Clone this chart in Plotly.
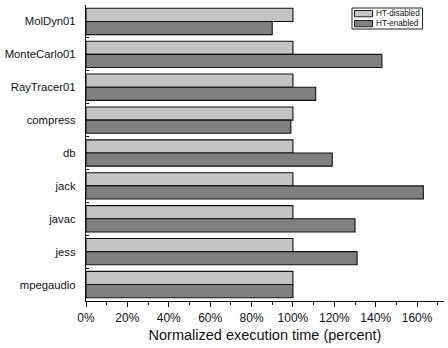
import plotly.graph_objects as go

benchmarks = ["MolDyn01", "MonteCarlo01", "RayTracer01", "compress", "db",
              "jack", "javac", "jess", "mpegaudio"]
ht_disabled = [100, 100, 100, 100, 100, 100, 100, 100, 100]
ht_enabled = [90, 143, 111, 99, 119, 163, 130, 131, 100]
x_ticks = [0, 20, 40, 60, 80, 100, 120, 140, 160]
series_names = ["HT-disabled", "HT-enabled"]
series_colors = ["#c4c4c4", "#808080"]

W, H = 448, 348
ML, MR, MT, MB = 86, 4, 5, 47
PW, PH = W - ML - MR, H - MT - MB


def px_x(x):
    return (x - ML) / PW


def px_y(y):
    return (H - MB - y) / PH


fig = go.Figure()
for name, vals, col in zip(series_names, [ht_disabled, ht_enabled], series_colors):
    fig.add_trace(go.Bar(
        y=benchmarks, x=vals, orientation="h", name=name,
        marker=dict(color=col, line=dict(color="#111111", width=1.1)),
    ))

# compact boxed legend with wide swatches
shapes = [dict(type="rect", xref="paper", yref="paper",
               x0=px_x(352), x1=px_x(422.5), y0=px_y(29), y1=px_y(8),
               line=dict(color="#222222", width=1), fillcolor="white", layer="above")]
annotations = []
for i, (name, col) in enumerate(zip(series_names, series_colors)):
    top = 10.5 + i * 10
    shapes.append(dict(type="rect", xref="paper", yref="paper",
                       x0=px_x(354.5), x1=px_x(372.5), y0=px_y(top + 6.3), y1=px_y(top),
                       line=dict(color="#222222", width=1), fillcolor=col, layer="above"))
    annotations.append(dict(xref="paper", yref="paper", x=px_x(373.5), y=px_y(top + 3.2),
                            text=name, showarrow=False, xanchor="left", yanchor="middle",
                            font=dict(size=8.2, color="#111111")))

fig.update_layout(
    width=W, height=H,
    margin=dict(l=ML, r=MR, t=MT, b=MB, autoexpand=False),
    barmode="group", bargap=0.2, bargroupgap=0.0,
    plot_bgcolor="white", paper_bgcolor="white",
    font=dict(family="Liberation Sans, Arial", color="#111111", size=12),
    showlegend=False,
    shapes=shapes, annotations=annotations,
)
fig.update_xaxes(
    range=[0, 173], tickvals=x_ticks, ticktext=[f"{v}%" for v in x_ticks],
    showline=True, linecolor="#111111", linewidth=1.2,
    ticks="outside", ticklen=5, tickcolor="#111111", tickwidth=1.2,
    minor=dict(dtick=10, ticks="outside", ticklen=3, tickcolor="#111111"),
    showgrid=False, zeroline=False, automargin=False,
    title=dict(text="Normalized execution time (percent)", font=dict(size=14.5), standoff=6),
    tickfont=dict(size=12),
)
fig.update_yaxes(
    autorange="reversed", type="category",
    showline=True, linecolor="#111111", linewidth=1.2,
    ticks="inside", ticklen=3, tickcolor="#111111", tickson="boundaries",
    showgrid=False, zeroline=False, automargin=False,
    tickfont=dict(size=11.3), ticklabelstandoff=7,
)

fig.write_html("out.html")
